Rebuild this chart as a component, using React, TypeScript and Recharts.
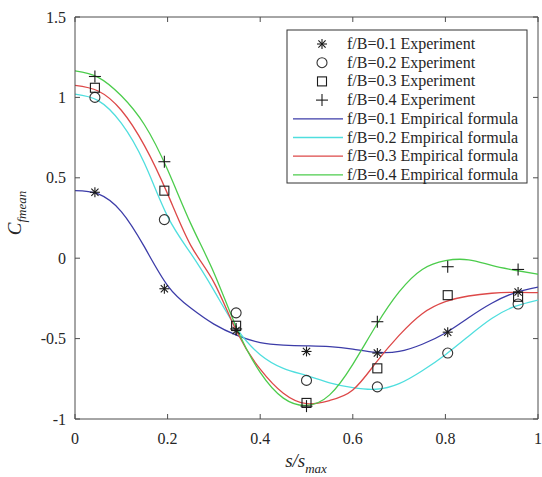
import React from 'react';
import { ComposedChart, Line, Scatter, XAxis, YAxis, ReferenceLine, Customized } from 'recharts';

// ---- data ----
const curveX = [0, 0.05, 0.1, 0.15, 0.2, 0.25, 0.3, 0.35, 0.4, 0.45, 0.5, 0.55, 0.6, 0.65, 0.7, 0.75, 0.8, 0.85, 0.9, 0.95, 1.0];
const formula01 = [0.42, 0.40, 0.29, 0.07, -0.17, -0.31, -0.41, -0.48, -0.525, -0.54, -0.545, -0.55, -0.565, -0.585, -0.58, -0.535, -0.465, -0.37, -0.28, -0.215, -0.18];
const formula02 = [1.02, 0.98, 0.84, 0.59, 0.26, 0.03, -0.20, -0.44, -0.60, -0.685, -0.73, -0.775, -0.805, -0.815, -0.78, -0.70, -0.60, -0.485, -0.375, -0.30, -0.26];
const formula03 = [1.075, 1.04, 0.92, 0.70, 0.40, 0.08, -0.15, -0.46, -0.69, -0.84, -0.905, -0.885, -0.82, -0.65, -0.48, -0.345, -0.27, -0.235, -0.218, -0.212, -0.214];
const formula04 = [1.165, 1.125, 1.01, 0.83, 0.55, 0.215, -0.09, -0.44, -0.71, -0.87, -0.915, -0.85, -0.66, -0.42, -0.21, -0.07, -0.015, -0.01, -0.045, -0.075, -0.10];

const expX = [0.043, 0.193, 0.348, 0.5, 0.653, 0.805, 0.957];
const exp01 = [0.41, -0.19, -0.45, -0.58, -0.59, -0.46, -0.21];
const exp02 = [1.0, 0.24, -0.34, -0.76, -0.80, -0.59, -0.285];
const exp03 = [1.06, 0.42, -0.42, -0.90, -0.685, -0.23, -0.24];
const exp04 = [1.13, 0.60, -0.44, -0.92, -0.395, -0.053, -0.07];

const xTicks = [0, 0.2, 0.4, 0.6, 0.8, 1];
const yTicks = [-1, -0.5, 0, 0.5, 1, 1.5];

const legendLabels = [
  'f/B=0.1 Experiment',
  'f/B=0.2 Experiment',
  'f/B=0.3 Experiment',
  'f/B=0.4 Experiment',
  'f/B=0.1 Empirical formula',
  'f/B=0.2 Empirical formula',
  'f/B=0.3 Empirical formula',
  'f/B=0.4 Empirical formula',
];

const curveData = curveX.map((x, i) => ({ x, f1: formula01[i], f2: formula02[i], f3: formula03[i], f4: formula04[i] }));
const mk = (ys: number[]) => expX.map((x, i) => ({ x, y: ys[i] }));

// ---- style / layout ----
const W = 542;
const H = 477;
const PL = 75, PT = 17, PR = 538, PB = 419;
const FONT = '"Liberation Serif", "Times New Roman", serif';
const AX = '#4d4d4d';
const MK = '#1a1a1a';
const C_BLUE = '#3c3ca8';
const C_CYAN = '#4fdede';
const C_RED = '#dd4848';
const C_GREEN = '#4ccc4c';

const Star = ({ cx, cy }: any) => {
  const r = 5;
  const d = r * 0.72;
  return (
    <g stroke={MK} strokeWidth={1.1}>
      <line x1={cx - r} y1={cy} x2={cx + r} y2={cy} />
      <line x1={cx} y1={cy - r} x2={cx} y2={cy + r} />
      <line x1={cx - d} y1={cy - d} x2={cx + d} y2={cy + d} />
      <line x1={cx - d} y1={cy + d} x2={cx + d} y2={cy - d} />
    </g>
  );
};
const Circ = ({ cx, cy }: any) => <circle cx={cx} cy={cy} r={5} fill="none" stroke="#333" strokeWidth={1.1} />;
const Sq = ({ cx, cy }: any) => <rect x={cx - 4.5} y={cy - 4.5} width={9} height={9} fill="none" stroke={MK} strokeWidth={1.1} />;
const Plus = ({ cx, cy }: any) => (
  <g stroke={MK} strokeWidth={1.1}>
    <line x1={cx - 6} y1={cy} x2={cx + 6} y2={cy} />
    <line x1={cx} y1={cy - 6} x2={cx} y2={cy + 6} />
  </g>
);

const XTick = ({ x, payload }: any) => (
  <g>
    <line x1={x} y1={PB} x2={x} y2={PB - 5} stroke={AX} />
    <line x1={x} y1={PT} x2={x} y2={PT + 5} stroke={AX} />
    <text x={x} y={PB + 25} textAnchor="middle" fontFamily={FONT} fontSize={16} fill="#262626">
      {String(payload.value)}
    </text>
  </g>
);

const YTick = ({ y, payload }: any) => (
  <g>
    <line x1={PL} y1={y} x2={PL + 5} y2={y} stroke={AX} />
    <line x1={PR} y1={y} x2={PR - 5} y2={y} stroke={AX} />
    <text x={66} y={y + 5.5} textAnchor="end" fontFamily={FONT} fontSize={16} fill="#262626">
      {String(payload.value)}
    </text>
  </g>
);

const LegendBox = () => {
  const x0 = 287, y0 = 30, w = 240, h = 153;
  const rowH = 18.7;
  const first = 44;
  const markers = [Star, Circ, Sq, Plus];
  const lineColors = [C_BLUE, C_CYAN, C_RED, C_GREEN];
  return (
    <g>
      <rect x={x0} y={y0} width={w} height={h} fill="#fff" stroke="#333" strokeWidth={1} />
      {legendLabels.map((lab, i) => {
        const cy = first + i * rowH;
        let sym;
        if (i < 4) {
          const M = markers[i];
          sym = <M cx={322} cy={cy} />;
        } else {
          sym = <line x1={293} y1={cy} x2={343} y2={cy} stroke={lineColors[i - 4]} strokeWidth={1.3} />;
        }
        return (
          <g key={i}>
            {sym}
            <text x={347} y={cy + 5} fontFamily={FONT} fontSize={16} fill="#262626">{lab}</text>
          </g>
        );
      })}
    </g>
  );
};

const AxisLabels = () => (
  <g fontFamily={FONT} fill="#262626" fontStyle="italic">
    <text transform="translate(21,213) rotate(-90)" textAnchor="middle">
      <tspan fontSize={19}>C</tspan>
      <tspan fontSize={13} dy={5}>fmean</tspan>
    </text>
    <text x={306} y={467} textAnchor="middle">
      <tspan fontSize={19}>s/s</tspan>
      <tspan fontSize={13} dy={6}>max</tspan>
    </text>
  </g>
);

export default function App() {
  return (
    <div style={{ position: 'fixed', left: 0, top: 0, width: W, height: H, background: '#fff' }}>
      <ComposedChart
        width={W}
        height={H}
        data={curveData}
        margin={{ top: PT, right: W - PR, bottom: 28, left: 15 }}
      >
        <XAxis
          type="number"
          dataKey="x"
          domain={[0, 1]}
          ticks={xTicks}
          tick={<XTick />}
          tickLine={false}
          tickSize={0}
          tickMargin={0}
          height={30}
          axisLine={{ stroke: AX }}
          allowDataOverflow
        />
        <YAxis
          type="number"
          domain={[-1, 1.5]}
          ticks={yTicks}
          tick={<YTick />}
          tickLine={false}
          tickSize={0}
          tickMargin={0}
          width={60}
          axisLine={{ stroke: AX }}
          allowDataOverflow
        />
        <ReferenceLine y={1.5} stroke={AX} />
        <ReferenceLine x={1} stroke={AX} />
        <Line type="natural" dataKey="f1" stroke={C_BLUE} strokeWidth={1.3} dot={false} isAnimationActive={false} />
        <Line type="natural" dataKey="f2" stroke={C_CYAN} strokeWidth={1.3} dot={false} isAnimationActive={false} />
        <Line type="natural" dataKey="f3" stroke={C_RED} strokeWidth={1.3} dot={false} isAnimationActive={false} />
        <Line type="natural" dataKey="f4" stroke={C_GREEN} strokeWidth={1.3} dot={false} isAnimationActive={false} />
        <Scatter data={mk(exp01)} dataKey="y" shape={<Star />} isAnimationActive={false} />
        <Scatter data={mk(exp02)} dataKey="y" shape={<Circ />} isAnimationActive={false} />
        <Scatter data={mk(exp03)} dataKey="y" shape={<Sq />} isAnimationActive={false} />
        <Scatter data={mk(exp04)} dataKey="y" shape={<Plus />} isAnimationActive={false} />
        <Customized component={<LegendBox />} />
        <Customized component={<AxisLabels />} />
      </ComposedChart>
    </div>
  );
}
